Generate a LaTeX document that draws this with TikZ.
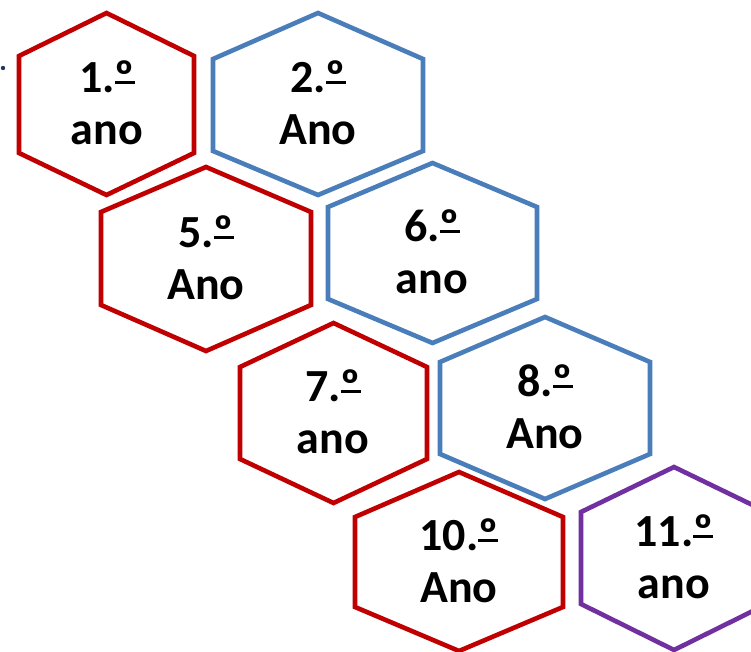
\documentclass[tikz,border=0pt]{standalone}
\usepackage{fontspec}
\setmainfont{Carlito}
\definecolor{hred}{HTML}{C00000}
\definecolor{hblue}{HTML}{4A7EBB}
\definecolor{hpurple}{HTML}{7030A0}
\definecolor{hnavy}{HTML}{1F3864}
\tikzset{
  hexline/.style={line width=4.6pt, line join=miter},
  yeartext/.style={align=center, inner sep=0pt, font=\fontsize{46}{52}\selectfont\bfseries, text=black}
}
\newcommand{\ordo}{\setbox0\hbox{º}\rlap{\rule[0.19em]{\wd0}{0.055em}}\box0}
% \hexa{colour}{xl}{xr}{ytop}{yshoulder}{ylowshoulder}{ybot}
\newcommand{\hexa}[7]{%
  \draw[hexline, #1] ({(#2+#3)/2},#4) -- (#3,#5) -- (#3,#6) -- ({(#2+#3)/2},#7) -- (#2,#6) -- (#2,#5) -- cycle;}
\begin{document}
\begin{tikzpicture}[x=1pt, y=-1pt]
\useasboundingbox (0,0) rectangle (751,652);
\clip (0,0) rectangle (751,652);
\fill[white] (0,0) rectangle (751,652);
\fill[hnavy] (3,68) circle (2.2);
% hexagons
\hexa{hred}{19}{194}{13}{56}{153}{195}
\hexa{hblue}{213}{423}{13}{59}{151}{195}
\hexa{hred}{101}{311}{167}{212}{305}{351}
\hexa{hblue}{328}{537}{163}{207}{299}{343}
\hexa{hred}{240}{427}{323}{367}{459}{503}
\hexa{hblue}{440}{650}{317}{362}{454}{499}
\hexa{hred}{355}{563}{472}{517}{607}{651}
\hexa{hpurple}{581}{767}{467}{512}{604}{650}
% labels
\node[yeartext] (y1) at (107,103) {1.\ordo\\ano};
\node[yeartext] (y2) at (318,103) {2.\ordo\\Ano};
\node[yeartext] (y5) at (206,258) {5.\ordo\\Ano};
\node[yeartext] (y6) at (432,252) {6.\ordo\\ano};
\node[yeartext] (y7) at (333,412) {7.\ordo\\ano};
\node[yeartext] (y8) at (545,407) {8.\ordo\\Ano};
\node[yeartext] (y10) at (459,561) {10.\ordo\\Ano};
\node[yeartext] (y11) at (674,557) {11.\ordo\\ano};
\end{tikzpicture}
\end{document}
